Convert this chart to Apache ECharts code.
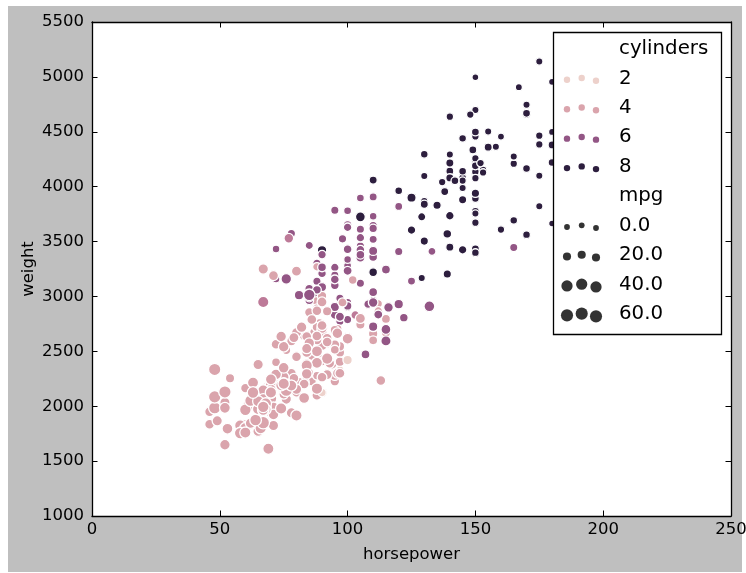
<!DOCTYPE html>
<html>
<head>
<meta charset="utf-8">
<script src="https://cdn.jsdelivr.net/npm/echarts@6/dist/echarts.min.js"></script>
<style>
  html, body { margin: 0; padding: 0; background: #ffffff; }
  #chart { width: 746px; height: 573px; }
</style>
</head>
<body>
<div id="chart"></div>
<script>
// Auto MPG cars: horsepower vs weight, coloured by cylinders, sized by mpg
const horsepower = [
  130,165,150,150,140,198,220,215,225,190,
  170,160,150,225,95,95,97,85,88,46,
  87,90,95,113,90,215,200,210,193,88,
  90,95,
  100,105,100,88,100,165,175,
  153,150,180,170,175,110,72,100,88,86,
  90,70,76,65,69,60,70,95,80,54,
  90,86,165,175,150,153,150,208,155,160,
  190,97,150,130,140,150,112,76,87,69,
  86,92,97,80,88,175,150,145,137,150,
  198,150,158,150,215,225,175,105,100,100,
  88,95,46,150,167,170,180,100,88,72,
  94,90,85,107,90,145,230,49,75,91,
  112,150,110,122,180,95,
  100,100,67,
  80,65,75,100,110,105,140,150,150,140,
  150,83,67,78,52,61,75,75,75,97,
  93,67,95,105,72,72,170,145,150,148,
  110,105,110,95,110,110,129,75,83,100,
  78,96,71,97,97,70,90,95,88,98,
  115,53,86,81,92,79,83,140,150,120,
  152,100,105,81,90,52,60,70,53,100,
  78,110,95,71,70,75,72,102,150,88,
  108,120,180,145,130,150,68,80,58,96,
  70,145,110,145,130,110,105,100,98,180,
  170,190,149,78,88,75,89,63,83,67,
  78,97,110,110,48,66,52,70,60,110,
  140,139,105,95,85,88,100,90,105,85,
  110,120,145,165,139,140,68,95,97,75,
  95,105,85,97,103,125,115,133,71,68,
  115,85,88,90,110,130,129,138,135,155,
  142,125,150,71,65,80,80,77,125,71,
  90,70,70,65,69,90,115,115,90,76,
  60,70,65,90,88,90,90,78,90,75,
  92,75,65,105,65,48,48,67,67,67,
  67,62,132,100,88,
  72,84,84,
  92,110,84,58,64,60,67,65,62,68,
  63,65,65,74,
  75,75,100,74,80,
  76,116,120,110,105,88,85,88,88,88,
  85,84,90,92,74,68,68,63,70,88,
  75,70,67,67,67,110,85,92,112,96,
  84,90,86,52,84,79,82
];

const weight = [
  3504,3693,3436,3433,3449,4341,4354,4312,4425,3850,
  3563,3609,3761,3086,2372,2833,2774,2587,2130,1835,
  2672,2430,2375,2234,2648,4615,4376,4382,4732,2130,
  2264,2228,
  2634,3439,3329,3302,3288,4209,4464,
  4154,4096,4955,4746,5140,2962,2408,3282,3139,2220,
  2123,2074,2065,1773,1613,1834,1955,2278,2126,2254,
  2408,2226,4274,4385,4135,4129,3672,4633,4502,4456,
  4422,2330,3892,4098,4294,4077,2933,2511,2979,2189,
  2395,2288,2506,2164,2100,4100,3672,3988,4042,3777,
  4952,4464,4363,4237,4735,4951,3821,3121,3278,2945,
  3021,2904,1950,4997,4906,4654,4499,2789,2279,2401,
  2379,2124,2310,2472,2265,4082,4278,1867,2158,2582,
  2868,3399,2660,2807,3664,3102,
  2901,3336,1950,
  2451,1836,2542,3781,3632,3613,4141,4699,4457,4638,
  4257,2219,1963,2300,1649,2003,2125,2108,2246,2489,
  2391,2000,3264,3459,3432,3158,4668,4440,4498,4657,
  3907,3897,3730,3785,3039,3221,3169,2171,2639,2914,
  2592,2702,2223,2545,2984,1937,3211,2694,2957,2945,
  2671,1795,2464,2220,2572,2255,2202,4215,4190,3962,
  4215,3233,3353,3012,3085,2035,2164,1937,1795,3651,
  3574,3645,3193,1825,1990,2155,2565,3150,3940,3270,
  2930,3820,4380,4055,3870,3755,2045,2155,1825,2300,
  1945,3880,4060,4140,4295,3520,3425,3630,3525,4220,
  4165,4325,4335,1940,2740,2265,2755,2051,2075,1985,
  2190,2815,2600,2720,1985,1800,1985,2070,1800,3365,
  3735,3570,3535,3155,2965,2720,3430,3210,3380,3070,
  3620,3410,3425,3445,3205,4080,2155,2560,2300,2230,
  2515,2745,2855,2405,2830,3140,2795,3410,1990,2135,
  3245,2990,2890,3265,3360,3840,3725,3955,3830,4360,
  4054,3605,3940,1925,1975,1915,2670,3530,3900,3190,
  3420,2200,2150,2020,2130,2670,2595,2700,2556,2144,
  1968,2120,2019,2678,2870,3003,3381,2188,2711,2542,
  2434,2265,2110,2800,2110,2085,2335,2950,3250,1850,
  2145,1845,2910,2420,2500,
  2290,2490,2635,
  2620,2725,2385,1755,1875,1760,2065,1975,2050,1985,
  2215,2045,2380,2190,
  2210,2350,2615,2635,3230,
  3160,2900,2930,3415,3725,3060,3465,2605,2640,2395,
  2575,2525,2735,2865,1980,2025,1970,2125,2125,2160,
  2205,2245,1965,1965,1995,2945,3015,2585,2835,2665,
  2370,2950,2790,2130,2295,2625,2720
];

const cylinders = [
  8,8,8,8,8,8,8,8,8,8,
  8,8,8,8,4,6,6,6,4,4,
  4,4,4,4,6,8,8,8,8,4,
  4,4,
  6,6,6,6,6,8,8,
  8,8,8,8,8,6,4,6,6,4,
  4,4,4,4,4,4,4,4,4,4,
  4,4,8,8,8,8,8,8,8,8,
  8,3,8,8,8,8,4,4,4,4,
  4,4,4,4,4,8,8,8,8,8,
  8,8,8,8,8,8,8,6,6,6,
  6,6,4,8,8,8,8,6,4,4,
  4,3,4,6,4,8,8,4,4,4,
  4,8,4,6,8,6,
  6,6,4,
  4,4,4,6,6,6,8,8,8,8,
  8,4,4,4,4,4,4,4,4,4,
  4,4,6,6,6,6,8,8,8,8,
  6,6,6,6,6,8,8,4,4,6,
  4,4,4,4,6,4,6,4,4,4,
  4,4,4,4,4,4,4,8,8,8,
  8,6,6,6,6,4,4,4,4,6,
  6,6,6,4,4,4,4,4,8,4,
  6,6,8,8,8,8,4,4,4,4,
  4,8,8,8,8,6,6,6,6,8,
  8,8,8,4,4,4,4,4,4,4,
  4,6,4,3,4,4,4,4,4,8,
  8,8,6,6,6,4,6,6,6,6,
  6,6,8,6,8,8,4,4,4,4,
  4,4,4,4,5,6,4,6,4,4,
  6,6,4,6,6,8,8,8,8,8,
  8,8,8,4,4,4,4,5,8,4,
  8,4,4,4,4,4,6,6,4,4,
  4,4,4,4,4,4,6,4,4,4,
  4,4,4,4,4,4,4,5,4,4,
  4,4,6,3,4,
  4,4,4,
  4,6,4,4,4,4,4,4,4,4,
  4,4,4,4,
  4,4,4,4,4,
  6,6,6,6,8,6,6,4,4,4,
  4,4,4,4,4,4,4,4,4,4,
  4,4,4,4,4,6,6,4,6,4,
  4,4,4,4,4,4,4
];

const mpg = [
  18,15,18,16,17,15,14,14,14,15,
  15,14,15,14,24,22,18,21,27,26,
  25,24,25,26,21,10,10,11,9,27,
  28,25,
  19,16,17,19,18,14,14,
  14,14,12,13,13,18,22,19,18,23,
  28,30,30,31,35,27,26,24,25,23,
  20,21,13,14,15,14,17,11,13,12,
  13,19,15,13,13,14,18,22,21,26,
  22,28,23,28,27,13,14,13,14,15,
  12,13,13,14,13,12,13,18,16,18,
  18,23,26,11,12,13,12,18,20,21,
  22,18,19,21,26,15,16,29,24,20,
  19,15,24,20,11,20,
  19,15,31,
  26,32,25,16,16,18,16,13,14,14,
  14,29,26,26,31,32,28,24,26,24,
  26,31,19,18,15,15,16,15,16,14,
  17,16,15,18,21,20,13,29,23,20,
  23,24,25,24,18,29,19,23,23,22,
  25,33,28,25,25,26,27,17.5,16,15.5,
  14.5,22,22,24,22.5,29,24.5,29,33,20,
  18,18.5,17.5,29.5,32,28,26.5,20,13,19,
  19,16.5,16.5,13,13,13,31.5,30,36,25.5,
  33.5,17.5,17,15.5,15,17.5,20.5,19,18.5,16,
  15.5,15.5,16,29,24.5,26,25.5,30.5,33.5,30,
  30.5,22,21.5,21.5,43.1,36.1,32.8,39.4,36.1,19.9,
  19.4,20.2,19.2,20.5,20.2,25.1,20.5,19.4,20.6,20.8,
  18.6,18.1,19.2,17.7,18.1,17.5,30,27.5,27.2,30.9,
  21.1,23.2,23.8,23.9,20.3,17,21.6,16.2,31.5,29.5,
  21.5,19.8,22.3,20.2,20.6,17,17.6,16.5,18.2,16.9,
  15.5,19.2,18.5,31.9,34.1,35.7,27.4,25.4,23,27.2,
  23.9,34.2,34.5,31.8,37.3,28.4,28.8,26.8,33.5,41.5,
  38.1,32.1,37.2,28,26.4,24.3,19.1,34.3,29.8,31.3,
  37,32.2,46.6,27.9,40.8,44.3,43.4,36.4,30,44.6,
  33.8,29.8,32.7,23.7,35,
  32.4,27.2,26.6,
  25.8,23.5,30,39.1,39,35.1,32.3,37,37.7,34.1,
  34.7,34.4,29.9,33,
  33.7,32.4,32.9,31.6,28.1,
  30.7,25.4,24.2,22.4,26.6,20.2,17.6,28,27,34,
  31,29,27,24,36,37,31,38,36,36,
  36,34,38,32,38,25,38,26,22,32,
  36,27,27,44,32,28,31
];

// Axis ticks
const xTicks = [0, 50, 100, 150, 200, 250];
const yTicks = [1000, 1500, 2000, 2500, 3000, 3500, 4000, 4500, 5000, 5500];

// Legend levels
const hueLevels = [2, 4, 6, 8];
const sizeLevels = [0, 20, 40, 60];

const FONT = 'DejaVu Sans';

// cubehelix (start 0, rot .4, hue .8, light .85, dark .15), light to dark
function cubehelix(x) {
  const a = 0.8 * x * (1 - x) / 2;
  const phi = 2 * Math.PI * (0.4 * x);
  const c = Math.cos(phi), s = Math.sin(phi);
  const ch = (p0, p1) => Math.max(0, Math.min(1, x + a * (p0 * c + p1 * s)));
  const r = ch(-0.14861, 1.78277), g = ch(-0.29227, -0.90649), b = ch(1.97294, 0);
  return 'rgb(' + Math.round(r * 255) + ',' + Math.round(g * 255) + ',' + Math.round(b * 255) + ')';
}
const cylMin = Math.min(...cylinders), cylMax = Math.max(...cylinders);
function hueColor(cyl) {
  let t = (cyl - cylMin) / (cylMax - cylMin);
  t = Math.max(0, Math.min(1, t));
  return cubehelix(0.85 - 0.7 * t);
}

// marker area in pt^2 mapped linearly from mpg range, clipped; then to px diameter
const mpgMin = Math.min(...mpg), mpgMax = Math.max(...mpg);
const PX_PER_PT = 1.5;
function sizePx(v) {
  let t = (v - mpgMin) / (mpgMax - mpgMin);
  t = Math.max(0, Math.min(1, t));
  return PX_PER_PT * Math.sqrt(18 + 54 * t);
}

const points = horsepower.map((h, i) => [h, weight[i], cylinders[i], mpg[i]]);

const tickStyle = { show: true, inside: true, length: 5.5, lineStyle: { color: '#000', width: 1 } };
const lineStyle = { show: true, onZero: false, lineStyle: { color: '#000', width: 1.3 } };
const labelStyle = { color: '#000', fontSize: 16.5, fontFamily: FONT, formatter: v => String(v) };

// Legend drawn as graphic elements, on its own layer above the points
const LEGEND_LAYER = { zlevel: 5, z: 100, silent: true };
const legendX = 553.5, legendY = 32.5, legendW = 168, legendH = 302;
const rowY0 = 49, rowStep = 29.45;
const dotXs = [567, 581.7, 596];
const dotDy = [1.3, -0.4, 2.3];
const legendElements = [Object.assign({
  type: 'rect',
  shape: { x: legendX, y: legendY, width: legendW, height: legendH },
  style: { fill: '#fff', stroke: '#000', lineWidth: 1.3 }
}, LEGEND_LAYER)];
const rows = [];
rows.push({ label: 'cylinders' });
hueLevels.forEach(h => rows.push({ label: String(h), color: hueColor(h), r: 3.2 }));
rows.push({ label: 'mpg' });
sizeLevels.forEach(s => rows.push({ label: s.toFixed(1), color: '#333333', r: sizePx(s) / 2 - 0.3 }));
rows.forEach((row, k) => {
  const cy = rowY0 + rowStep * k;
  legendElements.push(Object.assign({
    type: 'text',
    style: { x: 619, y: cy, text: row.label, fill: '#000', font: '19.8px "' + FONT + '"', textVerticalAlign: 'middle', textAlign: 'left' }
  }, LEGEND_LAYER, { z: 101 }));
  if (row.color) {
    dotXs.forEach((dx, j) => {
      legendElements.push(Object.assign({
        type: 'circle',
        shape: { cx: dx, cy: cy + dotDy[j], r: row.r },
        style: { fill: row.color }
      }, LEGEND_LAYER, { z: 101 }));
    });
  }
});

const chart = echarts.init(document.getElementById('chart'), null, { renderer: 'canvas' });
chart.setOption({
  animation: false,
  backgroundColor: '#ffffff',
  textStyle: { fontFamily: FONT },
  grid: {
    left: 92, top: 22, width: 639, height: 494,
    show: true, backgroundColor: '#ffffff', borderWidth: 0,
    containLabel: false, outerBoundsMode: 'none'
  },
  xAxis: [{
    type: 'value', position: 'bottom',
    min: xTicks[0], max: xTicks[xTicks.length - 1], interval: xTicks[1] - xTicks[0],
    axisLine: lineStyle, axisTick: tickStyle,
    axisLabel: Object.assign({ margin: 5, showMinLabel: true, showMaxLabel: true }, labelStyle),
    splitLine: { show: false },
    name: 'horsepower', nameLocation: 'middle', nameGap: 30, nameMoveOverlap: false,
    nameTextStyle: { color: '#000', fontSize: 16.5, fontFamily: FONT }
  }, {
    type: 'value', position: 'top',
    min: xTicks[0], max: xTicks[xTicks.length - 1], interval: xTicks[1] - xTicks[0],
    axisLine: lineStyle, axisTick: tickStyle,
    axisLabel: { show: false }, splitLine: { show: false }
  }],
  yAxis: [{
    type: 'value', position: 'left',
    min: yTicks[0], max: yTicks[yTicks.length - 1], interval: yTicks[1] - yTicks[0],
    axisLine: lineStyle, axisTick: tickStyle,
    axisLabel: Object.assign({ margin: 8, showMinLabel: true, showMaxLabel: true }, labelStyle),
    splitLine: { show: false },
    name: 'weight', nameLocation: 'middle', nameGap: 55, nameRotate: 90, nameMoveOverlap: false,
    nameTextStyle: { color: '#000', fontSize: 16.5, fontFamily: FONT }
  }, {
    type: 'value', position: 'right',
    min: yTicks[0], max: yTicks[yTicks.length - 1], interval: yTicks[1] - yTicks[0],
    axisLine: lineStyle, axisTick: tickStyle,
    axisLabel: { show: false }, splitLine: { show: false }
  }],
  graphic: [
    {
      type: 'rect', z: -100, silent: true,
      shape: { x: 8, y: 6, width: 734, height: 566 },
      style: { fill: '#bfbfbf' }
    }
  ].concat(legendElements),
  series: [{
    type: 'scatter',
    xAxisIndex: 0, yAxisIndex: 0,
    data: points,
    symbol: 'circle',
    symbolSize: v => sizePx(v[3]),
    itemStyle: {
      color: p => hueColor(p.data[2]),
      borderColor: '#ffffff', borderWidth: 1.3, opacity: 1
    },
    emphasis: { disabled: true },
    silent: true,
    z: 2
  }]
});
</script>
</body>
</html>
